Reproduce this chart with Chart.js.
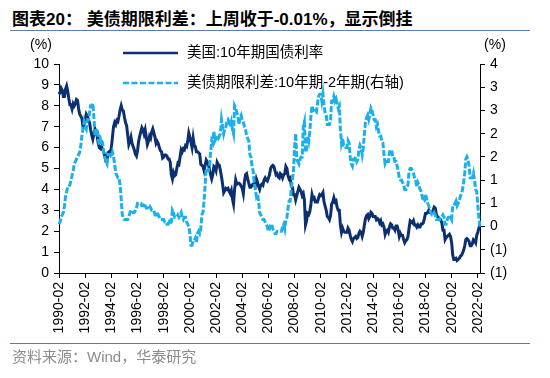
<!DOCTYPE html>
<html>
<head>
<meta charset="utf-8">
<script src="https://cdn.jsdelivr.net/npm/chart.js@4"></script>
<style>
  body { margin:0; background:#fff; width:550px; height:378px; position:relative; overflow:hidden; }
  #title { position:absolute; left:12px; top:5px; font:bold 17px "Liberation Sans","Noto Sans CJK SC",sans-serif; color:#000; white-space:nowrap; }
  .rule { position:absolute; left:10px; width:520px; height:0; border-top:1.5px solid #5b7db3; }
  #source { position:absolute; left:12px; top:345px; font:15px "Liberation Sans","Noto Sans CJK SC",sans-serif; color:#8c8c8c; white-space:nowrap; }
  canvas { position:absolute; left:0; top:0; }
</style>
</head>
<body>
<div id="title">图表20：&nbsp;美债期限利差：上周收于-0.01%，显示倒挂</div>
<div class="rule" style="top:30px"></div>
<canvas id="chart" width="550" height="378"></canvas>
<div class="rule" style="top:343px"></div>
<div id="source">资料来源：Wind，华泰研究</div>
<script>
// monthly, 1990-02 .. 2022-04
const firstYear = 1990
const firstMonth = 2
const tickEvery = 24

// 美国:10年期国债利率 (%), left axis
const yield10y = [
  8.55, 8.65, 8.85, 8.75, 8.45, 8.45, 8.8, 8.95, 8.7, 8.35, 8.05, // 1990
  8.05, 7.85, 8.1, 8.0, 8.1, 8.3, 8.25, 7.85, 7.6, 7.5, 7.4, 7.0, // 1991
  7.1, 7.35, 7.6, 7.5, 7.35, 7.2, 6.85, 6.6, 6.4, 6.65, 6.9, 6.75, // 1992
  6.55, 6.2, 6.0, 5.95, 6.05, 5.9, 5.8, 5.6, 5.35, 5.35, 5.75, 5.8, // 1993
  5.7, 6.0, 6.5, 7.0, 7.2, 7.1, 7.3, 7.25, 7.5, 7.8, 8.0, 7.8, // 1994
  7.75, 7.45, 7.2, 7.05, 6.6, 6.15, 6.3, 6.5, 6.2, 6.05, 5.9, 5.7, // 1995
  5.6, 5.85, 6.3, 6.55, 6.75, 6.95, 6.85, 6.65, 6.85, 6.5, 6.15, 6.3, // 1996
  6.55, 6.45, 6.75, 6.9, 6.7, 6.5, 6.2, 6.3, 6.2, 6.0, 5.85, 5.8, // 1997
  5.5, 5.55, 5.65, 5.65, 5.6, 5.45, 5.45, 5.3, 4.7, 4.5, 4.8, 4.65, // 1998
  4.7, 5.0, 5.25, 5.2, 5.55, 5.9, 5.8, 5.95, 5.9, 6.1, 6.05, 6.3, // 1999
  6.7, 6.5, 6.25, 6.0, 6.45, 6.1, 6.05, 5.8, 5.8, 5.75, 5.7, 5.2, // 2000
  5.15, 5.1, 4.9, 5.15, 5.4, 5.3, 5.2, 4.95, 4.7, 4.5, 4.7, 5.1, // 2001
  5.05, 4.9, 5.3, 5.2, 5.15, 4.9, 4.6, 4.25, 3.85, 3.95, 4.05, 4.0, // 2002
  4.05, 3.9, 3.8, 3.95, 3.55, 3.3, 4.0, 4.45, 4.25, 4.3, 4.3, 4.25, // 2003
  4.15, 4.05, 3.8, 4.35, 4.7, 4.75, 4.5, 4.3, 4.1, 4.1, 4.2, 4.25, // 2004
  4.2, 4.15, 4.5, 4.35, 4.15, 4.0, 4.2, 4.25, 4.2, 4.45, 4.55, 4.45, // 2005
  4.4, 4.55, 4.7, 5.0, 5.1, 5.15, 5.1, 4.9, 4.7, 4.75, 4.6, 4.55, // 2006
  4.75, 4.7, 4.55, 4.7, 4.75, 5.1, 5.0, 4.65, 4.5, 4.55, 4.15, 4.1, // 2007
  3.75, 3.75, 3.5, 3.7, 3.9, 4.1, 4.0, 3.9, 3.7, 3.8, 3.5, 2.3, // 2008
  2.5, 2.85, 2.8, 2.95, 3.3, 3.75, 3.55, 3.6, 3.4, 3.4, 3.4, 3.6, // 2009
  3.75, 3.7, 3.75, 3.85, 3.4, 3.2, 3.0, 2.7, 2.65, 2.55, 2.75, 3.3, // 2010
  3.4, 3.6, 3.4, 3.45, 3.15, 3.0, 3.0, 2.3, 1.95, 2.15, 2.0, 1.95, // 2011
  1.95, 1.95, 2.15, 2.05, 1.8, 1.6, 1.5, 1.65, 1.7, 1.75, 1.65, 1.7, // 2012
  1.9, 2.0, 1.95, 1.75, 1.95, 2.3, 2.6, 2.75, 2.8, 2.6, 2.7, 2.9, // 2013
  2.85, 2.7, 2.7, 2.7, 2.55, 2.6, 2.55, 2.4, 2.5, 2.3, 2.35, 2.2, // 2014
  1.85, 2.0, 2.05, 1.95, 2.2, 2.35, 2.3, 2.15, 2.15, 2.05, 2.25, 2.25, // 2015
  2.05, 1.75, 1.9, 1.8, 1.8, 1.6, 1.45, 1.55, 1.6, 1.75, 2.15, 2.5, // 2016
  2.45, 2.4, 2.5, 2.3, 2.3, 2.2, 2.3, 2.2, 2.2, 2.35, 2.35, 2.4, // 2017
  2.6, 2.85, 2.85, 2.9, 3.0, 2.9, 2.9, 2.9, 3.0, 3.15, 3.1, 2.8, // 2018
  2.7, 2.65, 2.55, 2.55, 2.4, 2.05, 2.05, 1.6, 1.7, 1.75, 1.8, 1.85, // 2019
  1.75, 1.45, 0.85, 0.65, 0.65, 0.7, 0.6, 0.65, 0.7, 0.8, 0.85, 0.95, // 2020
  1.1, 1.3, 1.6, 1.65, 1.6, 1.5, 1.3, 1.3, 1.4, 1.6, 1.55, 1.45, // 2021
  1.8, 1.95, 2.15, 2.35 // 2022
]

// 美债期限利差:10年期-2年期 (%), right axis
const spread10y2y = [
  0.05, 0.1, 0.2, 0.25, 0.3, 0.45, 0.65, 0.75, 0.85, 0.85, 0.9, // 1990
  1.0, 1.1, 1.2, 1.35, 1.4, 1.45, 1.5, 1.55, 1.6, 1.75, 1.95, 2.1, // 1991
  2.25, 2.15, 2.1, 2.3, 2.3, 2.45, 2.6, 2.6, 2.65, 2.35, 1.95, 2.0, // 1992
  2.1, 1.9, 1.75, 1.9, 1.85, 1.8, 1.6, 1.5, 1.4, 1.35, 1.55, 1.55, // 1993
  1.55, 1.5, 1.6, 1.5, 1.35, 1.15, 1.1, 1.05, 1.05, 0.9, 0.6, 0.25, // 1994
  0.2, 0.15, 0.15, 0.15, 0.15, 0.2, 0.3, 0.35, 0.35, 0.3, 0.3, 0.35, // 1995
  0.4, 0.5, 0.5, 0.5, 0.5, 0.45, 0.45, 0.5, 0.45, 0.4, 0.4, 0.45, // 1996
  0.45, 0.4, 0.35, 0.35, 0.35, 0.25, 0.25, 0.3, 0.25, 0.2, 0.15, 0.15, // 1997
  0.15, 0.15, 0.1, 0.1, 0.05, 0.05, 0.1, 0.05, 0.1, 0.35, 0.3, 0.2, // 1998
  0.2, 0.2, 0.25, 0.2, 0.25, 0.3, 0.2, 0.15, 0.2, 0.2, 0.1, 0.05, // 1999
  0.0, -0.15, -0.4, -0.4, -0.3, -0.3, -0.25, -0.35, -0.15, -0.1, -0.15, -0.05, // 2000
  0.25, 0.3, 0.55, 0.9, 1.25, 1.2, 1.2, 1.3, 1.6, 1.85, 1.8, 2.05, // 2001
  1.85, 1.9, 1.95, 1.9, 1.95, 2.0, 2.3, 2.15, 2.0, 2.1, 2.15, 2.25, // 2002
  2.3, 2.25, 2.15, 2.25, 2.1, 2.0, 2.6, 2.55, 2.45, 2.4, 2.2, 2.35, // 2003
  2.4, 2.3, 2.25, 2.15, 2.1, 1.95, 1.9, 1.85, 1.55, 1.5, 1.3, 1.2, // 2004
  0.95, 0.8, 0.65, 0.7, 0.55, 0.3, 0.25, 0.2, 0.15, 0.15, 0.1, 0.05, // 2005
  0.0, -0.1, -0.05, 0.05, 0.05, -0.05, -0.1, -0.15, -0.15, -0.1, -0.1, -0.1, // 2006
  -0.1, -0.1, 0.0, 0.05, -0.05, 0.15, 0.2, 0.4, 0.55, 0.55, 0.85, 1.0, // 2007
  1.2, 1.7, 2.0, 1.45, 1.4, 1.35, 1.45, 1.5, 1.5, 2.15, 2.25, 1.6, // 2008
  1.65, 1.95, 1.85, 2.05, 2.4, 2.6, 2.5, 2.5, 2.45, 2.45, 2.65, 2.8, // 2009
  2.85, 2.85, 2.7, 2.85, 2.6, 2.45, 2.4, 2.2, 2.2, 2.2, 2.3, 2.7, // 2010
  2.7, 2.8, 2.7, 2.75, 2.65, 2.55, 2.6, 2.1, 1.8, 1.9, 1.75, 1.75, // 2011
  1.7, 1.7, 1.85, 1.8, 1.5, 1.35, 1.3, 1.45, 1.45, 1.5, 1.4, 1.45, // 2012
  1.65, 1.75, 1.7, 1.55, 1.7, 2.0, 2.25, 2.35, 2.4, 2.3, 2.4, 2.55, // 2013
  2.5, 2.4, 2.3, 2.3, 2.15, 2.2, 2.05, 1.95, 1.95, 1.85, 1.8, 1.55, // 2014
  1.35, 1.4, 1.4, 1.4, 1.6, 1.65, 1.65, 1.5, 1.5, 1.4, 1.4, 1.3, // 2015
  1.2, 1.05, 1.0, 1.0, 0.95, 0.9, 0.8, 0.8, 0.85, 0.9, 1.2, 1.25, // 2016
  1.25, 1.2, 1.15, 1.05, 1.0, 0.85, 0.95, 0.9, 0.8, 0.75, 0.65, 0.55, // 2017
  0.55, 0.7, 0.6, 0.5, 0.45, 0.35, 0.3, 0.25, 0.25, 0.3, 0.25, 0.15, // 2018
  0.15, 0.15, 0.15, 0.2, 0.2, 0.25, 0.2, 0.05, 0.05, 0.15, 0.2, 0.2, // 2019
  0.2, 0.15, 0.45, 0.45, 0.5, 0.55, 0.45, 0.5, 0.55, 0.65, 0.7, 0.8, // 2020
  0.95, 1.15, 1.45, 1.5, 1.45, 1.3, 1.05, 1.05, 1.05, 1.15, 1.0, 0.8, // 2021
  0.75, 0.45, 0.2, -0.01 // 2022
]

const seriesNames = ["美国:10年期国债利率", "美债期限利差:10年期-2年期(右轴)"]
const seriesColors = ["#0b2f6f", "#19b0ec"]

const months = yield10y.map((_, i) => {
  const m = firstMonth - 1 + i
  return `${firstYear + Math.floor(m / 12)}-${String(m % 12 + 1).padStart(2, "0")}`
})

const font = {family:"'Liberation Sans', Arial, 'Noto Sans CJK SC'", size:14}

/** Excel-like 0-decimal label, negatives in brackets. */
function bracket(v) {
  const n = Math.sign(v) * Math.round(Math.abs(v))
  return n < 0 ? `(${-n})` : `${n}`
}

const extras = {
  id:"extras",
  afterDraw(chart) {
    const ctx = chart.ctx
    ctx.save()
    ctx.font = `14px ${font.family}`
    ctx.fillStyle = "#000"
    ctx.textBaseline = "middle"
    ctx.textAlign = "center"
    ctx.fillText("(%)", 41, 45)
    ctx.fillText("(%)", 495, 45)
    // legend rows
    const rows = [{y:53, dash:[]}, {y:83, dash:[6, 2.5]}]
    rows.forEach((row, i) => {
      ctx.strokeStyle = seriesColors[i]
      ctx.lineWidth = 2.5
      ctx.setLineDash(row.dash)
      ctx.beginPath()
      ctx.moveTo(123, row.y)
      ctx.lineTo(178, row.y)
      ctx.stroke()
      ctx.textAlign = "left"
      ctx.font = `14.5px ${font.family}`
      ctx.fillText(seriesNames[i], 187, row.y)
    })
    ctx.restore()
  }
}

const axisGrid = {display:true, drawOnChartArea:false, drawTicks:true, tickLength:5, color:"#000"}

new Chart(document.getElementById("chart"), {
  type:"line",
  data:{
    labels:months,
    datasets:[
      {label:seriesNames[1], data:spread10y2y, yAxisID:"y2", borderColor:seriesColors[1], borderWidth:3, borderDash:[6, 2], pointRadius:0, tension:0, order:0},
      {label:seriesNames[0], data:yield10y, yAxisID:"y", borderColor:seriesColors[0], borderWidth:3, pointRadius:0, tension:0, order:1},
    ]
  },
  options:{
    responsive:false,
    animation:false,
    layout:{padding:{top:64, left:0, right:0, bottom:0}},
    plugins:{legend:{display:false}, tooltip:{enabled:false}},
    scales:{
      x:{
        grid:axisGrid,
        border:{color:"#000"},
        ticks:{autoSkip:false, minRotation:90, maxRotation:90, color:"#000", font, padding:4},
        afterBuildTicks(scale) { scale.ticks = scale.ticks.filter(t => t.value % tickEvery === 0) },
        afterFit(scale) { scale.height = 105 }
      },
      y:{
        position:"left",
        min:0, max:10,
        grid:axisGrid,
        border:{color:"#000"},
        ticks:{stepSize:1, color:"#000", font, padding:5},
        afterFit(scale) { scale.width = 59 }
      },
      y2:{
        position:"right",
        min:-1, max:3.5,
        grid:axisGrid,
        border:{color:"#000"},
        ticks:{stepSize:0.5, color:"#000", font, padding:5, callback:bracket},
        afterFit(scale) { scale.width = 70 }
      }
    }
  },
  plugins:[extras]
})
</script>
</body>
</html>
